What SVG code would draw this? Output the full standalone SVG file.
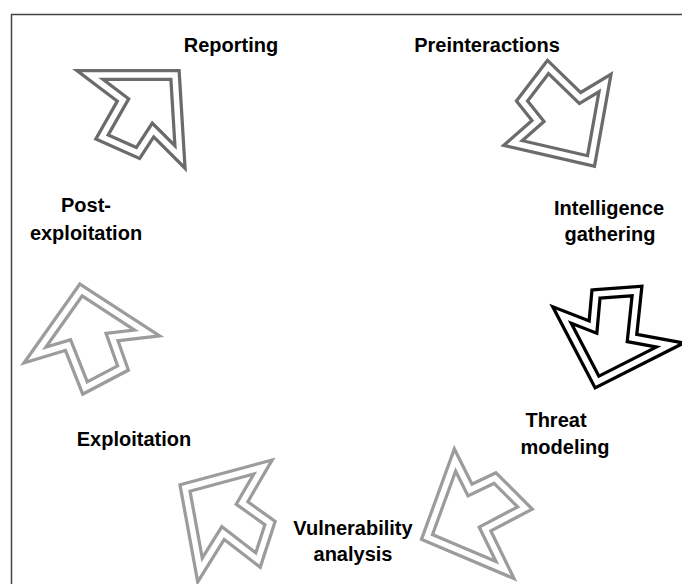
<svg xmlns="http://www.w3.org/2000/svg" width="682" height="584" viewBox="0 0 682 584">
<style>
.lbl{font-family:"Liberation Sans",Arial,sans-serif;font-weight:bold;font-size:20px;fill:#000;text-anchor:middle}
.o{fill:#fff;stroke-width:12;stroke-linejoin:miter;stroke-miterlimit:12}
.i{fill:none;stroke:#fff;stroke-width:5.5;stroke-linejoin:miter;stroke-miterlimit:12}
.dk{stroke:#6b6b6b}
.bk{stroke:#000}
.lt{stroke:#9c9c9c}
</style>
<rect width="682" height="584" fill="#fff"/>
<path d="M11.5,584 V14.5 H682" fill="none" stroke="#444" stroke-width="1.5"/>
<g id="connectors">
  <g id="arrow-reporting">
    <path class="o dk" d="M175,75 L90,75 L123,100 L102,137 L138,153 L153,130 L180,157 Z"/>
    <path class="i" d="M175,75 L90,75 L123,100 L102,137 L138,153 L153,130 L180,157 Z"/>
  </g>
  <g id="arrow-preinteractions">
    <path class="o dk" d="M548,67 L522,101 L538,121 L513,143 L591,161 L605,83 L580,98 Z"/>
    <path class="i" d="M548,67 L522,101 L538,121 L513,143 L591,161 L605,83 L580,98 Z"/>
  </g>
  <g id="arrow-intelligence">
    <path class="o bk" d="M596,294 L637,291 L632,338 L670,345 L597,382 L562,315 L593,327 Z"/>
    <path class="i" d="M596,294 L637,291 L632,338 L670,345 L597,382 L562,315 L593,327 Z"/>
  </g>
  <g id="arrow-threat">
    <path class="o lt" d="M455,460 L470,490 L495,478 L525,508 L485,529 L505,570 L427,537 Z"/>
    <path class="i" d="M455,460 L470,490 L495,478 L525,508 L485,529 L505,570 L427,537 Z"/>
  </g>
  <g id="arrow-vulnerability">
    <path class="o lt" d="M185,488 L263,467 L242,503 L270,523 L258,560 L223,533 L200,570 Z"/>
    <path class="i" d="M185,488 L263,467 L242,503 L270,523 L258,560 L223,533 L200,570 Z"/>
  </g>
  <g id="arrow-exploitation">
    <path class="o lt" d="M81,290 L147,333 L112,337 L123,368 L85,388 L68,345 L35,355 Z"/>
    <path class="i" d="M81,290 L147,333 L112,337 L123,368 L85,388 L68,345 L35,355 Z"/>
  </g>
</g>
<g id="node-reporting"><text class="lbl" x="231" y="52">Reporting</text></g>
<g id="node-preinteractions"><text class="lbl" x="487" y="52">Preinteractions</text></g>
<g id="node-intelligence"><text class="lbl" x="609" y="215">Intelligence</text><text class="lbl" x="610" y="241">gathering</text></g>
<g id="node-threat"><text class="lbl" x="556" y="427">Threat</text><text class="lbl" x="565" y="454">modeling</text></g>
<g id="node-vulnerability"><text class="lbl" x="353" y="535">Vulnerability</text><text class="lbl" x="353" y="561">analysis</text></g>
<g id="node-exploitation"><text class="lbl" x="134" y="446">Exploitation</text></g>
<g id="node-post"><text class="lbl" x="86" y="212">Post-</text><text class="lbl" x="86" y="240">exploitation</text></g>
</svg>
